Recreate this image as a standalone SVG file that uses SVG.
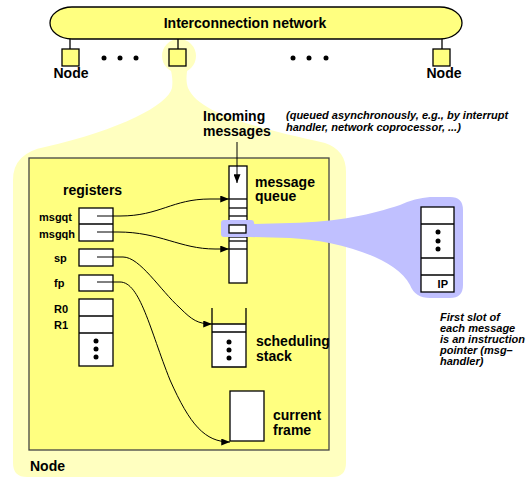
<svg xmlns="http://www.w3.org/2000/svg" width="527" height="478" viewBox="0 0 527 478">
<style>
text{font-family:"Liberation Sans",Arial,sans-serif;font-weight:bold;fill:#000}
.l{font-size:14px}
.s{font-size:11px}
.i{font-size:11px;font-style:italic}
.box{fill:#fff;stroke:#000;stroke-width:1.3}
.ln{stroke:#000;stroke-width:1.3;fill:none}
.c{stroke:#000;stroke-width:1;fill:none;marker-end:url(#ah)}
.y{fill:#ffff80;stroke:#000;stroke-width:1.3}
.dot{fill:#000}
</style>
<defs>
<marker id="ah" viewBox="0 0 10 8" refX="10" refY="4" markerWidth="9" markerHeight="7" markerUnits="userSpaceOnUse" orient="auto">
<path d="M0,0 L10,4 L0,8 Z" fill="#000"/>
</marker>
</defs>

<g id="zoom-bubble">
<circle cx="179" cy="56" r="17" fill="#ffffc0"/>
<path d="M170,66 L188,66 C186,76 186,82 188,88 C200,115 260,128 325,143 Q346,150 346,172 L346,463 Q346,477 332,477 L27,477 Q13,477 13,463 L13,180 Q13,153 45,147 C120,130 168,105 172,88 C173,80 172,75 170,66 Z" fill="#ffffc0"/>
</g>

<g id="network">
<rect x="50" y="7" width="412" height="32" rx="22" ry="16" class="y"/>
<text class="l" x="245" y="28" text-anchor="middle">Interconnection network</text>
</g>

<g id="node-left">
<line x1="70" y1="39" x2="70" y2="49" class="ln"/>
<rect x="62" y="49" width="17" height="17" class="y"/>
<text class="l" x="71" y="78" text-anchor="middle">Node</text>
</g>
<g id="node-mid">
<line x1="178" y1="39" x2="178" y2="49" class="ln"/>
<rect x="169" y="49" width="17" height="17" class="y"/>
</g>
<g id="node-right">
<line x1="442" y1="39" x2="442" y2="49" class="ln"/>
<rect x="433" y="49" width="17" height="17" class="y"/>
<text class="l" x="444" y="78" text-anchor="middle">Node</text>
</g>
<g id="ellipsis-dots">
<circle cx="104" cy="58" r="2.5" class="dot"/>
<circle cx="120" cy="58" r="2.5" class="dot"/>
<circle cx="136" cy="58" r="2.5" class="dot"/>
<circle cx="293" cy="58" r="2.5" class="dot"/>
<circle cx="309" cy="58" r="2.5" class="dot"/>
<circle cx="326" cy="58" r="2.5" class="dot"/>
</g>

<g id="node-detail">
<rect x="29" y="158" width="300" height="292" fill="#ffff80" stroke="#444" stroke-width="1.3"/>
<text class="l" x="30" y="471">Node</text>
</g>

<g id="incoming">
<text class="l" x="203" y="121">Incoming</text>
<text class="l" x="203" y="136">messages</text>
<text class="i" x="286" y="119">(queued asynchronously, e.g., by interrupt</text>
<text class="i" x="286" y="131">handler, network coprocessor, ...)</text>
</g>

<g id="registers">
<text class="l" x="63" y="195">registers</text>
<text class="s" x="39" y="220.5">msgqt</text>
<text class="s" x="39" y="237.5">msgqh</text>
<text class="s" x="54" y="262">sp</text>
<text class="s" x="54" y="287">fp</text>
<text class="s" x="54" y="313">R0</text>
<text class="s" x="54" y="329">R1</text>
<rect x="79" y="208" width="34" height="33" class="box"/>
<line x1="79" y1="224" x2="113" y2="224" class="ln"/>
<rect x="79" y="249" width="34" height="17" class="box"/>
<rect x="79" y="275" width="34" height="16" class="box"/>
<rect x="79" y="299" width="34" height="67" class="box"/>
<line x1="79" y1="316" x2="113" y2="316" class="ln"/>
<line x1="79" y1="333" x2="113" y2="333" class="ln"/>
<circle cx="96" cy="341" r="2.5" class="dot"/>
<circle cx="96" cy="349" r="2.5" class="dot"/>
<circle cx="96" cy="357" r="2.5" class="dot"/>
</g>

<g id="message-queue">
<rect x="229" y="166" width="18" height="117" class="box"/>
<line x1="229" y1="199" x2="247" y2="199" class="ln"/>
<line x1="229" y1="208" x2="247" y2="208" class="ln"/>
<line x1="229" y1="216" x2="247" y2="216" class="ln"/>
<line x1="229" y1="237" x2="247" y2="237" class="ln"/>
<line x1="229" y1="241" x2="247" y2="241" class="ln"/>
<line x1="229" y1="249" x2="247" y2="249" class="ln"/>
<text class="l" x="255" y="186.5">message</text>
<text class="l" x="255" y="201">queue</text>
</g>

<g id="magnifier">
<path d="M250,224 L290,223 C340,222 372,214 400,205 Q415,198 430,197 L450,197 Q463,197 463,210 L463,285 Q463,298 450,298 L430,298 Q415,298 410,285 C395,255 330,240 290,238 L250,237 Z" fill="#c0c0ff"/>
<rect x="221" y="220" width="33" height="17" rx="3" fill="#c0c0ff"/>
<rect x="229" y="225" width="17" height="8" class="box"/>
</g>

<g id="message-slot">
<rect x="421" y="207" width="33" height="85" class="box"/>
<line x1="421" y1="224" x2="454" y2="224" class="ln"/>
<line x1="421" y1="258" x2="454" y2="258" class="ln"/>
<line x1="421" y1="275" x2="454" y2="275" class="ln"/>
<circle cx="438" cy="232" r="2.5" class="dot"/>
<circle cx="438" cy="241" r="2.5" class="dot"/>
<circle cx="438" cy="249" r="2.5" class="dot"/>
<text class="s" x="448" y="288" text-anchor="end">IP</text>
<text class="i" x="440" y="321">First slot of</text>
<text class="i" x="440" y="332">each message</text>
<text class="i" x="440" y="343">is an instruction</text>
<text class="i" x="440" y="354">pointer (msg–</text>
<text class="i" x="440" y="365">handler)</text>
</g>

<g id="scheduling-stack">
<rect x="212" y="324" width="34" height="43" fill="#fff" stroke="none"/>
<path d="M212,308 L212,367 L246,367 L246,308" class="ln"/>
<line x1="212" y1="324" x2="246" y2="324" class="ln"/>
<line x1="212" y1="332" x2="246" y2="332" class="ln"/>
<circle cx="229" cy="342" r="2.5" class="dot"/>
<circle cx="229" cy="350" r="2.5" class="dot"/>
<circle cx="229" cy="358" r="2.5" class="dot"/>
<text class="l" x="256" y="345.5">scheduling</text>
<text class="l" x="256" y="360.5">stack</text>
</g>

<g id="current-frame">
<rect x="230" y="391" width="34" height="50" class="box"/>
<text class="l" x="273" y="419.5">current</text>
<text class="l" x="273" y="434.5">frame</text>
</g>

<g id="connectors">
<path d="M237,142 L237,183" class="c"/>
<path d="M97,216 L120,216 C160,216 172,199 210,199 L229,199" class="c"/>
<path d="M97,232 L118,232 C160,232 180,249 215,249 L229,249" class="c"/>
<path d="M97,257 L123,257 C140,257 160,290 180,308 C192,320 198,324 212,324" class="c"/>
<path d="M97,282 L120,282 C140,282 150,330 170,380 C190,425 205,442 230,442" class="c"/>
</g>
</svg>
